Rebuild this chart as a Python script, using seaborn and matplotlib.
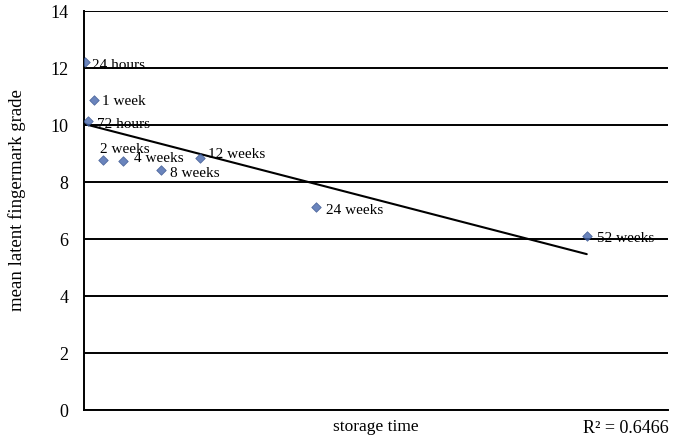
import pandas as pd
import matplotlib
matplotlib.use("Agg")
import matplotlib.pyplot as plt
import seaborn as sns

# storage time in weeks, mean grade
labels = ["24 hours", "72 hours", "1 week", "2 weeks", "4 weeks",
          "8 weeks", "12 weeks", "24 weeks", "52 weeks"]
weeks = [1 / 7, 3 / 7, 1, 2, 4, 8, 12, 24, 52]
grade = [12.22, 10.14, 10.88, 8.76, 8.74, 8.43, 8.84, 7.13, 6.10]
r2_text = "R² = 0.6466"

df = pd.DataFrame({"label": labels, "weeks": weeks, "grade": grade})

sns.set_style("white")
plt.rcParams["font.family"] = ["Liberation Serif", "DejaVu Serif"]
plt.rcParams["text.color"] = "black"
plt.rcParams["axes.labelcolor"] = "black"

fig = plt.figure(figsize=(6.83, 4.39), dpi=100)
ax = fig.add_axes([0.123, 0.0638, 0.855, 0.9089])

sns.regplot(data=df, x="weeks", y="grade", ci=None, truncate=True, ax=ax,
            marker="D",
            scatter_kws=dict(s=24, color="#4566ab", edgecolor="#34508a",
                             linewidths=0.5, zorder=4),
            line_kws=dict(color="black", lw=1.5, zorder=3))

# label offsets in pixels (dx, dy)
offsets = {
    "24 hours": (7, -3), "72 hours": (9, -3),
    "1 week": (8, -1), "2 weeks": (-3, 12),
    "4 weeks": (11, 3), "8 weeks": (9, -3),
    "12 weeks": (8, 5), "24 weeks": (10, -3),
    "52 weeks": (10, -1),
}
for lab, x, y in zip(labels, weeks, grade):
    dx, dy = offsets[lab]
    ax.annotate(lab, (x, y), xytext=(dx, dy), textcoords="offset pixels",
                ha="left", va="center", fontsize=11, color="black", zorder=5)

ax.set_xlim(0, 60.4)
ax.set_ylim(0, 14)
ax.set_yticks(range(0, 15, 2))
ax.set_xticks([])
ax.yaxis.grid(True, color="black", lw=1.4)
ax.set_axisbelow(True)
for s in ["top", "right"]:
    ax.spines[s].set_visible(False)
for s in ["left", "bottom"]:
    ax.spines[s].set_color("black")
    ax.spines[s].set_linewidth(1.4)
ax.tick_params(axis="y", direction="out", length=5, width=1.4,
               color="black", labelcolor="black", labelsize=13, pad=6)

ax.set_xlabel("storage time", fontsize=12.5, labelpad=6)
ax.set_ylabel("mean latent fingermark grade", fontsize=13.5)
ax.yaxis.set_label_coords(-0.099, 0.529)
fig.text(0.979, 0.025, r2_text, ha="right", va="center", fontsize=13)

fig.savefig("out.png", dpi=100)
